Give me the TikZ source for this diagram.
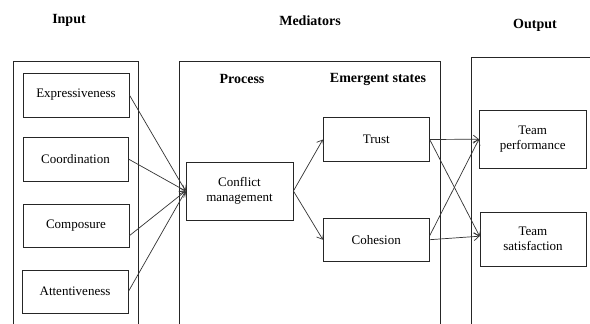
\documentclass[tikz,border=0pt]{standalone}
\usepackage{fontspec}
\setmainfont{Liberation Serif}
\usetikzlibrary{arrows.meta}
\begin{document}
\begin{tikzpicture}[x=1pt,y=-1pt,
  frame/.style={draw=black!85,line width=0.8pt},
  item/.style={draw=black!85,line width=0.8pt,align=center,inner sep=1pt,
    font=\fontsize{13}{15}\selectfont},
  heading/.style={font=\bfseries\fontsize{14}{16}\selectfont},
  link/.style={draw=black!80,line width=0.7pt,-{Straight Barb[length=5pt,width=8pt]}}]
\useasboundingbox (0,0) rectangle (590,324);
\fill[white] (0,0) rectangle (590,324);
% column frames, open at the bottom
\draw[frame] (13,324) -- (13,61) -- (138,61) -- (138,324);
\draw[frame] (179,324) -- (179,61) -- (440.7,61) -- (440.7,324);
\draw[frame] (471.7,324) -- (471.7,57) -- (592,57);
% headings
\node[heading] (hin) at (69,20) {Input};
\node[heading] (hmed) at (310,21) {Mediators};
\node[heading] (hout) at (535,25) {Output};
\node[heading] (hproc) at (242,79) {Process};
\node[heading] (hemer) at (378,79) {Emergent states};
% boxes
\node[item,minimum width=106,minimum height=44] (expr) at (76,95) {Expressiveness};
\node[item,minimum width=105,minimum height=44] (coord) at (75.5,159) {Coordination};
\node[item,minimum width=106,minimum height=43] (comp) at (76,225.7) {Composure};
\node[item,minimum width=106,minimum height=43] (att) at (75,291.5) {Attentiveness};
\node[item,minimum width=107,minimum height=58] (cm) at (239.5,191) {Conflict\\management};
\node[item,minimum width=106,minimum height=43.6] (trust) at (376.3,139.5) {Trust};
\node[item,minimum width=106,minimum height=43] (coh) at (376.3,239.7) {Cohesion};
\node[item,minimum width=106.7,minimum height=58] (perf) at (532.7,139.2) {Team\\performance};
\node[item,minimum width=106,minimum height=54] (sat) at (533,239.2) {Team\\satisfaction};
% connectors
\draw[link] (expr.east) -- (cm.west);
\draw[link] (coord.east) -- (cm.west);
\draw[link] ([yshift=-10pt]comp.east) -- (cm.west);
\draw[link] (att.east) -- (cm.west);
\draw[link] (cm.east) -- (trust.west);
\draw[link] (cm.east) -- (coh.west);
\draw[link] (trust.east) -- (perf.west);
\draw[link] (trust.east) -- ([yshift=3pt]sat.west);
\draw[link] ([yshift=4pt]coh.east) -- (perf.west);
\draw[link] (coh.east) -- ([yshift=3pt]sat.west);
\end{tikzpicture}
\end{document}
